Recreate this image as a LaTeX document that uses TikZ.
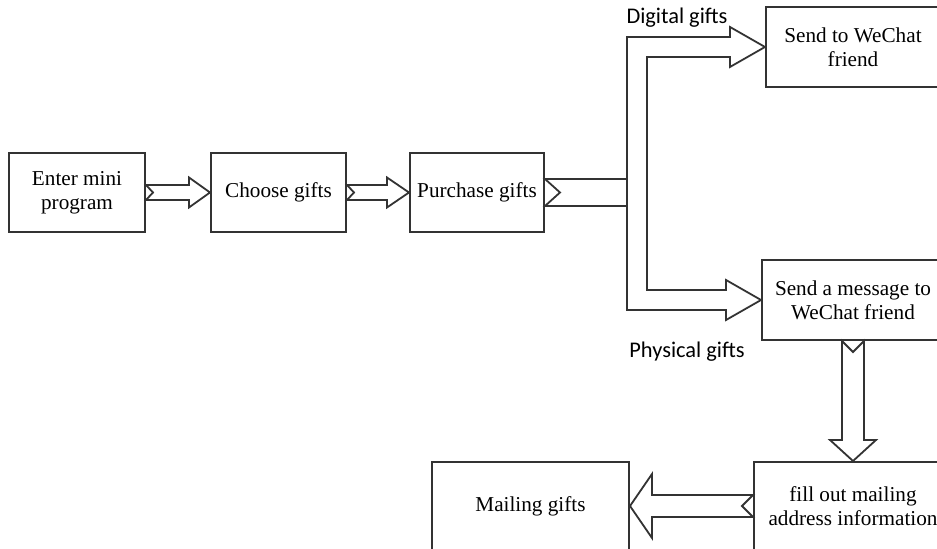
\documentclass[tikz,border=0pt]{standalone}
\usepackage{fontspec}
\setmainfont{Liberation Serif}
\newfontfamily\labelfont{Carlito}
\usepackage{xcolor}
\usepackage{tikz}
\usetikzlibrary{positioning, calc}

\begin{document}
\begin{tikzpicture}[x=0.5pt,y=-0.5pt]
	\tikzstyle{box}=[draw=black!80,line width=1pt,fill=white,inner sep=0pt,align=center,font=\fontsize{10.6}{11.9}\selectfont]
	\tikzstyle{blockarrow}=[draw=black!80,line width=0.9pt,fill=white,line join=miter]
	\tikzstyle{branch}=[font=\labelfont\fontsize{11.2}{13}\selectfont]
	\useasboundingbox (0,0) rectangle (937,549);
	\clip (0,0) rectangle (937,549);
	\node[box,minimum width=68pt,minimum height=39.5pt](enter) at (77,192.5) {Enter mini\\program};
	\node[box,minimum width=67.5pt,minimum height=39.5pt](choose) at (278.5,192.5) {Choose gifts};
	\node[box,minimum width=67pt,minimum height=39.5pt](purchase) at (477,192.5) {Purchase gifts};
	\node[box,minimum width=87pt,minimum height=40pt](wechat) at (853,47) {Send to WeChat\\friend};
	\node[box,minimum width=91pt,minimum height=40pt](message) at (853,300) {Send a message to\\WeChat friend};
	\node[box,minimum width=99pt,minimum height=44pt](fill) at (853,506) {fill out mailing\\address information};
	\node[box,minimum width=98.5pt,minimum height=44pt](mailing) at (530.5,506) {Mailing gifts};
	\node[branch](digital) at (677,18) {Digital gifts};
	\node[branch](physical) at (687,352) {Physical gifts};
	\coordinate (split) at (628,192.5);

	\draw[blockarrow] ($(enter.east)+(0,-7.5)$) -- ($(choose.west)+(-21,-7.5)$) -- ++(0,-7.5) -- (choose.west) -- ++(-21,15) -- ++(0,-7.5) -- ($(enter.east)+(0,7.5)$) -- ++(7,-7.5) -- cycle;
	\draw[blockarrow] ($(choose.east)+(0,-7.5)$) -- ($(purchase.west)+(-22,-7.5)$) -- ++(0,-7.5) -- (purchase.west) -- ++(-22,15) -- ++(0,-7.5) -- ($(choose.east)+(0,7.5)$) -- ++(7,-7.5) -- cycle;
	\draw[blockarrow] ($(purchase.east)+(0,-13.5)$) -- ($(split)+(0,-13.5)$) -- ($(split)+(0,13.5)$) -- ($(purchase.east)+(0,13.5)$) -- ++(15,-13.5) -- cycle;
	\draw[blockarrow] ($(wechat.west)+(-138,-10)$) -- ($(wechat.west)+(-35,-10)$) -- ++(0,-10) -- (wechat.west) -- ++(-35,20) -- ++(0,-10) -- ++(-83,0)
		-- ($(message.west)+(-114,-10)$) -- ($(message.west)+(-35,-10)$) -- ++(0,-10) -- (message.west) -- ++(-35,20) -- ++(0,-10) -- ($(message.west)+(-134,10)$) -- cycle;
	\draw[blockarrow] ($(message.south)+(-11,0)$) -- ($(fill.north)+(-11,-21)$) -- ++(-12,0) -- (fill.north) -- ++(23,-21) -- ++(-12,0) -- ($(message.south)+(11,0)$) -- ++(-11,11) -- cycle;
	\draw[blockarrow] ($(fill.west)+(0,-11)$) -- ($(mailing.east)+(22,-11)$) -- ++(0,-21) -- (mailing.east) -- ++(22,32) -- ++(0,-21) -- ($(fill.west)+(0,11)$) -- ++(-11,-11) -- cycle;
\end{tikzpicture}
\end{document}
